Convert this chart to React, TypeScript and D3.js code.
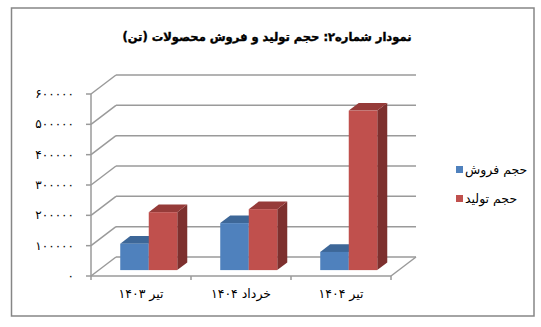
import React from "react";
import * as d3 from "d3";

const categories = ["تیر ۱۴۰۳", "خرداد ۱۴۰۴", "تیر ۱۴۰۴"];
const seriesNames = ["حجم فروش", "حجم تولید"];
const salesValues = [87000, 155000, 60000];
const productionValues = [191000, 201000, 526000];
const yTicks = [0, 100000, 200000, 300000, 400000, 500000, 600000];
const colors = [
  { front: "#4F81BD", top: "#3D6798", side: "#2F5480" },
  { front: "#C0504D", top: "#963B39", side: "#7D302E" },
];

const W = 541;
const H = 327;
const left = 91;
const right = 391;
const bottom = 276;
const top = 94;
const DX = 25;
const DY = -19;
const fFront = 0.31;
const fDepth = 0.4;

const toFa = (n: number) =>
  String(n).replace(/[0-9]/g, (d) => "۰۱۲۳۴۵۶۷۸۹"[+d]);

export default function App() {
  const y = d3.scaleLinear().domain([0, 600000]).range([bottom, top]);
  const x0 = d3.scaleBand<string>().domain(categories).range([left, right]).padding(0);
  const x1 = d3
    .scaleBand<string>()
    .domain(seriesNames)
    .range([0, x0.bandwidth()])
    .paddingInner(0)
    .paddingOuter(0.754);
  const data = [salesValues, productionValues];
  const font = "'DejaVu Sans', sans-serif";
  const grid = "#9a9a9a";

  const bars: React.ReactNode[] = [];
  categories.forEach((c, ci) => {
    seriesNames.forEach((s, si) => {
      const v = data[si][ci];
      const bx = (x0(c) as number) + (x1(s) as number) + DX * fFront;
      const bw = x1.bandwidth();
      const yb = y(0) + DY * fFront;
      const yt = y(v) + DY * fFront;
      const ddx = DX * fDepth;
      const ddy = DY * fDepth;
      const col = colors[si];
      bars.push(
        <g key={`${ci}-${si}`}>
          <polygon
            points={`${bx + bw},${yt} ${bx + bw + ddx},${yt + ddy} ${bx + bw + ddx},${yb + ddy} ${bx + bw},${yb}`}
            fill={col.side}
          />
          <polygon
            points={`${bx},${yt} ${bx + bw},${yt} ${bx + bw + ddx},${yt + ddy} ${bx + ddx},${yt + ddy}`}
            fill={col.top}
          />
          <rect x={bx} y={yt} width={bw} height={yb - yt} fill={col.front} />
        </g>
      );
    });
  });

  return (
    <svg width={W} height={H} style={{ position: "absolute", left: 0, top: 0 }}>
      <rect x={0} y={0} width={W} height={H} fill="#fff" />
      <rect x={11.5} y={8} width={522.5} height={308} fill="none" stroke="#868686" strokeWidth={1.5} />
      <text
        x={267}
        y={41}
        textAnchor="middle"
        fontFamily={font}
        fontWeight="bold"
        fontSize={11.5}
        stroke="#000"
        strokeWidth={0.4}
        fill="#000"
      >
        نمودار شماره۲: حجم تولید و فروش محصولات (تن)
      </text>
      {/* back wall gridlines and side wall diagonals */}
      {yTicks.map((t) => (
        <g key={t}>
          <line x1={left + DX} x2={right + DX} y1={y(t) + DY} y2={y(t) + DY} stroke={grid} strokeWidth={1.5} />
          <line x1={left} x2={left + DX} y1={y(t)} y2={y(t) + DY} stroke={grid} strokeWidth={1.5} />
          <line x1={left - 5} x2={left} y1={y(t)} y2={y(t)} stroke={grid} strokeWidth={1.5} />
          <text
            x={74}
            y={y(t) + 4}
            textAnchor="end"
            fontFamily={font}
            fontSize={12}
            letterSpacing={1.2}
            fill="#000"
          >
            {toFa(t)}
          </text>
        </g>
      ))}
      {/* floor */}
      <line x1={right} x2={right + DX} y1={bottom} y2={bottom + DY} stroke={grid} strokeWidth={1.5} />
      <line x1={left} x2={left} y1={top} y2={bottom} stroke={grid} strokeWidth={1.5} />
      <line x1={left} x2={right} y1={bottom} y2={bottom} stroke={grid} strokeWidth={1.5} />
      {[...categories.map((c) => x0(c) as number), right].map((xx, i) => (
        <line key={i} x1={xx} x2={xx} y1={bottom} y2={bottom + 4} stroke={grid} strokeWidth={1.5} />
      ))}
      {bars}
      {categories.map((c) => (
        <text
          key={c}
          x={(x0(c) as number) + x0.bandwidth() / 2}
          y={298}
          textAnchor="middle"
          fontFamily={font}
          fontSize={12.5}
          fill="#000"
        >
          {c}
        </text>
      ))}
      {seriesNames.map((s, i) => (
        <g key={s}>
          <rect x={456} y={166 + i * 29} width={7} height={7} fill={colors[i].front} />
          <text x={465} y={174 + i * 29} fontFamily={font} fontSize={12.5} fill="#000">
            {s}
          </text>
        </g>
      ))}
    </svg>
  );
}
